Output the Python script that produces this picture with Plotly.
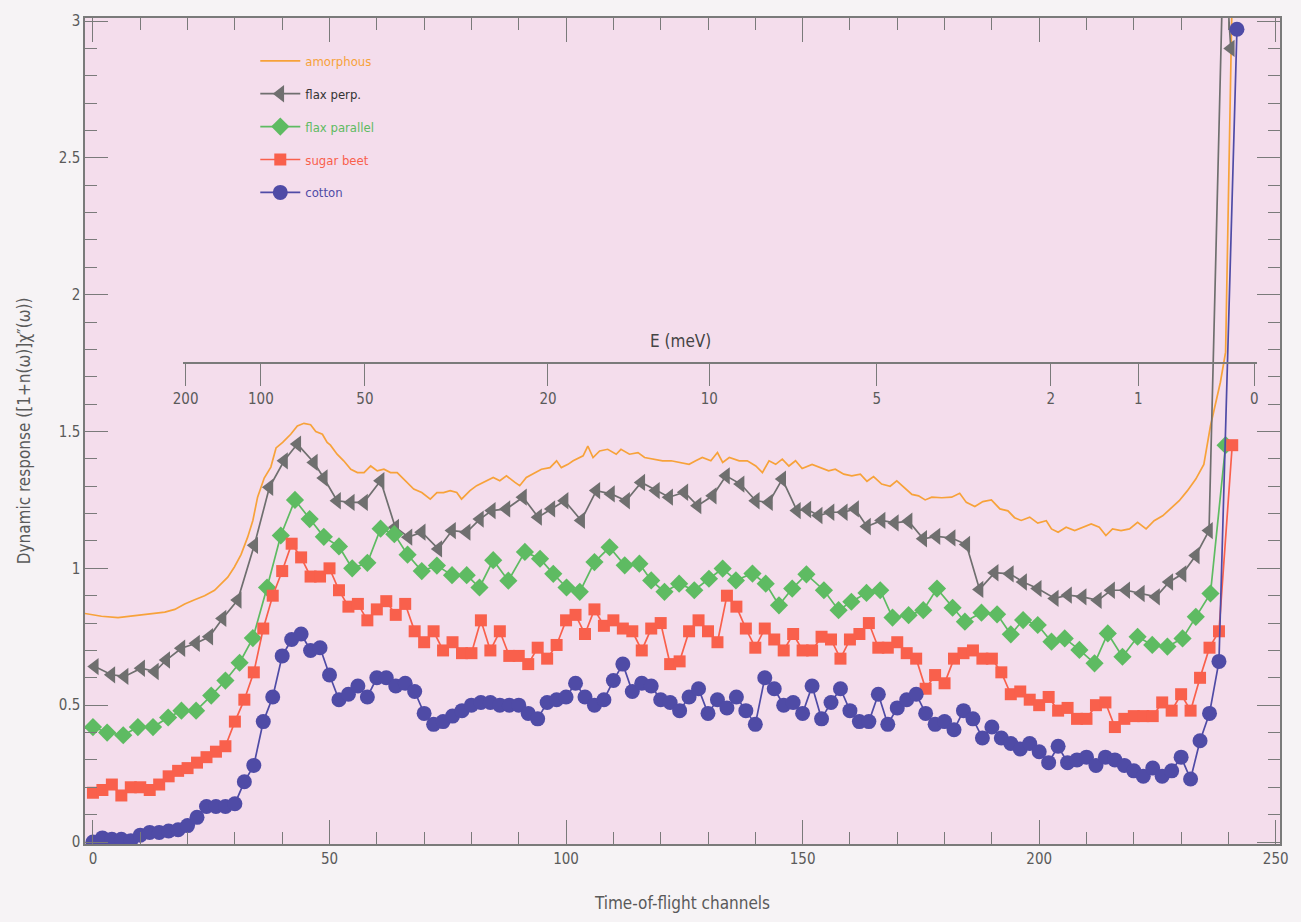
import plotly.graph_objects as go

# ---------------- data ----------------
amorphous_ch = [-1.7, 1.8, 5.3, 8.8, 12.4, 15.2, 17.3, 19.4, 21.5, 23.6, 25.7, 27.1, 28.5, 29.9, 31.3,
                32.7, 33.8, 34.8, 36.2, 37.6, 38.7, 40.1, 41.8, 43.2, 44.6, 46.0, 47.1, 48.5, 49.5, 50.2,
                51.6, 53.0, 54.5, 55.9, 57.3, 58.7, 60.1, 61.5, 62.9, 64.3, 66.0, 67.8, 69.5, 71.3, 72.7,
                74.1, 75.5, 76.9, 77.9, 79.7, 81.1, 83.2, 84.6, 86.0, 87.4, 89.2, 90.2, 91.6, 93.0, 94.8,
                96.6, 98.0, 99.0, 100.4, 101.5, 103.6, 104.6, 105.7, 107.1, 108.8, 110.6, 111.6, 113.4,
                115.2, 116.6, 118.3, 120.4, 122.2, 124.0, 126.0, 127.4, 128.8, 130.6, 132.0, 133.1, 134.5,
                136.6, 138.3, 140.1, 141.5, 142.9, 144.3, 145.7, 147.1, 148.5, 149.9, 152.0, 153.8, 155.5,
                156.9, 158.7, 160.4, 162.2, 163.6, 165.0, 166.7, 168.5, 169.9, 171.7, 173.1, 174.5, 175.9,
                177.3, 179.4, 181.5, 183.2, 184.6, 186.4, 188.1, 189.9, 191.7, 193.4, 194.8, 196.2, 198.0,
                199.7, 201.5, 202.6, 204.0, 205.7, 207.5, 209.2, 211.0, 212.7, 214.1, 215.5, 217.3, 219.1,
                220.8, 222.6, 224.3, 226.1, 227.8, 229.6, 231.3, 233.1, 234.8, 236.2, 238.3, 239.4, 241.0]
amorphous = [0.835, 0.825, 0.82, 0.827, 0.833, 0.84, 0.85, 0.87, 0.885, 0.90, 0.92, 0.944, 0.968, 1.005, 1.05,
             1.114, 1.175, 1.26, 1.33, 1.37, 1.44, 1.46, 1.49, 1.52, 1.53, 1.525, 1.50, 1.49, 1.46, 1.45,
             1.417, 1.393, 1.362, 1.35, 1.35, 1.374, 1.356, 1.362, 1.35, 1.35, 1.32, 1.29, 1.277, 1.253, 1.277,
             1.277, 1.284, 1.277, 1.253, 1.284, 1.302, 1.32, 1.332, 1.32, 1.338, 1.314, 1.302, 1.332, 1.344, 1.362,
             1.368, 1.393, 1.368, 1.38, 1.393, 1.411, 1.447, 1.405, 1.429, 1.435, 1.417, 1.435, 1.417,
             1.423, 1.405, 1.399, 1.393, 1.393, 1.387, 1.38, 1.393, 1.405, 1.393, 1.423, 1.387, 1.405,
             1.393, 1.393, 1.374, 1.35, 1.393, 1.38, 1.399, 1.374, 1.393, 1.365, 1.38, 1.368, 1.356,
             1.362, 1.344, 1.338, 1.344, 1.318, 1.335, 1.308, 1.30, 1.32, 1.293, 1.27, 1.265, 1.25,
             1.26, 1.258, 1.26, 1.274, 1.241, 1.226, 1.244, 1.25, 1.217, 1.21, 1.185, 1.175, 1.187,
             1.165, 1.174, 1.144, 1.132, 1.15, 1.138, 1.15, 1.162, 1.15, 1.12, 1.144, 1.138, 1.144,
             1.168, 1.144, 1.174, 1.192, 1.217, 1.247, 1.283, 1.326, 1.38, 1.52, 1.68, 1.79, 3.3]

flax_perp_ch = [0.4, 3.9, 6.7, 10.2, 13.1, 15.5, 18.7, 21.8, 24.6, 27.4, 30.6, 34.1, 37.3, 40.4, 43.2, 46.7, 48.8,
                51.6, 54.5, 57.3, 60.8, 63.9, 66.7, 69.5, 73.0, 75.9, 79.0, 81.8, 84.3, 87.4, 90.9, 94.1, 96.9, 99.7,
                103.2, 106.4, 109.5, 112.7, 115.9, 119.0, 121.8, 125.0, 127.8, 131.0, 133.8, 136.9, 140.1, 142.9, 145.7, 148.8, 151.0,
                153.4, 155.9, 158.7, 161.1, 163.6, 166.7, 169.5, 172.4, 175.5, 178.3, 181.5, 184.6, 187.4, 190.6, 193.8, 196.6, 199.7,
                203.3, 206.1, 209.2, 212.4, 215.2, 218.4, 221.5, 224.7, 227.5, 230.3, 233.1, 235.9, 239.0, 240.5]
flax_perp = [0.641, 0.611, 0.605, 0.635, 0.623, 0.665, 0.708, 0.726, 0.75, 0.817, 0.884, 1.084, 1.296, 1.393, 1.454, 1.387, 1.33,
             1.247, 1.241, 1.241, 1.32, 1.15, 1.114, 1.132, 1.071, 1.138, 1.132, 1.18, 1.211, 1.217, 1.26, 1.187, 1.217, 1.247,
             1.175, 1.284, 1.272, 1.247, 1.314, 1.284, 1.26, 1.278, 1.229, 1.265, 1.338, 1.308, 1.247, 1.241, 1.326, 1.211, 1.215,
             1.193, 1.205, 1.205, 1.217, 1.153, 1.175, 1.166, 1.172, 1.108, 1.117, 1.111, 1.087, 0.923, 0.984, 0.98, 0.95, 0.926,
             0.89, 0.902, 0.896, 0.883, 0.92, 0.92, 0.908, 0.896, 0.95, 0.98, 1.047, 1.138, 3.3, 2.90]

flax_par_ch = [0.0, 3.0, 6.4, 9.5, 12.7, 15.9, 18.7, 21.8, 25.0, 28.0, 31.0, 33.8, 36.8, 39.7, 42.7, 45.8, 48.8, 52.0,
               54.8, 58.0, 60.8, 63.7, 66.5, 69.5, 72.7, 75.9, 79.0, 81.7, 84.6, 87.8, 91.3, 94.5, 97.3, 100.1, 102.9,
               106.0, 109.2, 112.4, 115.5, 118.0, 120.8, 123.9, 127.1, 130.2, 133.1, 135.9, 139.4, 142.2, 145.0, 147.8,
               150.8, 154.5, 157.6, 160.3, 163.5, 166.4, 169.0, 172.4, 175.5, 178.4, 181.7, 184.3, 187.8, 191.1, 194.0,
               196.6, 199.7, 202.6, 205.4, 208.5, 211.7, 214.5, 217.6, 220.8, 223.9, 227.1, 230.3, 233.1, 236.2, 239.4]
flax_par = [0.42, 0.40, 0.39, 0.42, 0.42, 0.455, 0.48, 0.48, 0.535, 0.59, 0.655, 0.745, 0.93, 1.12, 1.25, 1.18, 1.115, 1.08,
            1.00, 1.02, 1.145, 1.125, 1.05, 0.99, 1.01, 0.975, 0.975, 0.93, 1.03, 0.955, 1.06, 1.035, 0.98, 0.93, 0.914,
            1.023, 1.077, 1.011, 1.017, 0.956, 0.914, 0.944, 0.92, 0.962, 0.999, 0.956, 0.981, 0.944, 0.865, 0.926,
            0.978, 0.92, 0.847, 0.878, 0.91, 0.92, 0.82, 0.829, 0.847, 0.926, 0.856, 0.805, 0.838, 0.832, 0.759,
            0.811, 0.793, 0.732, 0.744, 0.702, 0.653, 0.762, 0.677, 0.75, 0.72, 0.714, 0.744, 0.823, 0.908, 1.45]

sugar_beet_ch = list(range(0, 240, 2)) + [240.8]
sugar_beet = [0.18, 0.19, 0.21, 0.17, 0.20, 0.20, 0.19, 0.21, 0.24, 0.26, 0.27, 0.29, 0.31, 0.33, 0.35, 0.44,
              0.52, 0.62, 0.78, 0.90, 0.99, 1.09, 1.04, 0.97, 0.97, 1.00, 0.92, 0.86, 0.87, 0.81, 0.85, 0.88,
              0.83, 0.87, 0.77, 0.73, 0.77, 0.70, 0.73, 0.69, 0.69, 0.81, 0.70, 0.77, 0.68, 0.68, 0.65, 0.71,
              0.67, 0.72, 0.81, 0.83, 0.76, 0.85, 0.79, 0.81, 0.78, 0.77, 0.70, 0.78, 0.80, 0.65, 0.66, 0.77,
              0.81, 0.77, 0.73, 0.90, 0.86, 0.78, 0.71, 0.78, 0.74, 0.70, 0.76, 0.70, 0.70, 0.75, 0.74, 0.67,
              0.74, 0.76, 0.80, 0.71, 0.71, 0.73, 0.69, 0.67, 0.56, 0.61, 0.58, 0.67, 0.69, 0.70, 0.67, 0.67,
              0.62, 0.54, 0.55, 0.52, 0.50, 0.53, 0.48, 0.49, 0.45, 0.45, 0.50, 0.51, 0.42, 0.45, 0.46, 0.46,
              0.46, 0.51, 0.48, 0.54, 0.48, 0.60, 0.71, 0.77, 1.45]

cotton_ch = list(range(0, 240, 2)) + [241.8]
cotton = [0.00, 0.015, 0.01, 0.01, 0.005, 0.025, 0.035, 0.035, 0.04, 0.045, 0.06, 0.09, 0.13, 0.13, 0.13, 0.14,
          0.22, 0.28, 0.44, 0.53, 0.68, 0.74, 0.76, 0.70, 0.71, 0.61, 0.52, 0.54, 0.57, 0.53, 0.60, 0.60,
          0.57, 0.58, 0.55, 0.47, 0.43, 0.44, 0.46, 0.48, 0.50, 0.51, 0.51, 0.50, 0.50, 0.50, 0.47, 0.45,
          0.51, 0.52, 0.53, 0.58, 0.53, 0.50, 0.52, 0.59, 0.65, 0.55, 0.58, 0.57, 0.52, 0.51, 0.48, 0.53,
          0.56, 0.47, 0.52, 0.49, 0.53, 0.48, 0.43, 0.60, 0.56, 0.50, 0.51, 0.47, 0.57, 0.45, 0.51, 0.56,
          0.48, 0.44, 0.44, 0.54, 0.43, 0.49, 0.52, 0.54, 0.47, 0.43, 0.44, 0.41, 0.48, 0.45, 0.38, 0.42,
          0.38, 0.36, 0.34, 0.36, 0.33, 0.29, 0.35, 0.29, 0.30, 0.31, 0.28, 0.31, 0.30, 0.28, 0.26, 0.24,
          0.27, 0.24, 0.26, 0.31, 0.23, 0.37, 0.47, 0.66, 2.97]

# secondary energy axis (E in meV) and its channel positions
e_labels = ["200", "100", "50", "20", "10", "5", "2", "1", "0"]
e_channels = [19.6, 35.5, 57.5, 96.2, 130.3, 165.7, 202.5, 221.0, 245.5]

# ---------------- styling ----------------
FONT = "Liberation Sans Narrow, DejaVu Sans Condensed, Roboto Condensed, Arial Narrow, sans-serif"
TXT = "#5a5a5a"
AX = "#7a7a7a"
PLOT_BG = "#F4DDEC"
C_AM, C_PERP, C_PAR, C_SB, C_CO = "#F7A23A", "#6F6F6F", "#5EBB62", "#F9604C", "#4F4BA6"

fig = go.Figure()

def lab(txt, col):
    return f"<span style='color:{col}'>{txt}</span>"

fig.add_trace(go.Scatter(x=amorphous_ch, y=amorphous, mode="lines", name=lab("amorphous", C_AM),
                         line=dict(color=C_AM, width=1.7), legendgroup="a"))
fig.add_trace(go.Scatter(x=flax_perp_ch, y=flax_perp, mode="lines+markers", name=lab("flax perp.", "#333333"),
                         line=dict(color=C_PERP, width=1.7),
                         marker=dict(symbol="triangle-left", size=15, color=C_PERP), legendgroup="b"))
fig.add_trace(go.Scatter(x=flax_par_ch, y=flax_par, mode="lines+markers", name=lab("flax parallel", C_PAR),
                         line=dict(color=C_PAR, width=1.7),
                         marker=dict(symbol="diamond", size=14, color=C_PAR), legendgroup="c"))
fig.add_trace(go.Scatter(x=sugar_beet_ch, y=sugar_beet, mode="lines+markers", name=lab("sugar beet", C_SB),
                         line=dict(color=C_SB, width=1.7),
                         marker=dict(symbol="square", size=12, color=C_SB), legendgroup="d"))
fig.add_trace(go.Scatter(x=cotton_ch, y=cotton, mode="lines+markers", name=lab("cotton", C_CO),
                         line=dict(color=C_CO, width=1.7),
                         marker=dict(symbol="circle", size=15, color=C_CO), legendgroup="e"))
# empty trace that activates the energy axis
fig.add_trace(go.Scatter(x=[e_channels[0]], y=[None], xaxis="x2", yaxis="y", showlegend=False,
                         hoverinfo="skip", mode="markers"))

L, R, T, B = 85, 16, 15, 77
W, H = 1301, 922
pw = W - L - R
ph = H - T - B
x0_ch, x1_ch = -1.68, 250.9

def paper_x(px):
    return (px - L) / pw

def paper_y(py):
    return (H - B - py) / ph

e_left_px, e_right_px, e_line_py = 183, 1262, 362
fig.update_layout(
    width=W, height=H,
    margin=dict(l=L, r=R, t=T, b=B),
    paper_bgcolor="#F6F3F5",
    plot_bgcolor="rgba(0,0,0,0)",
    font=dict(family=FONT, size=14, color=TXT),
    showlegend=True,
    legend=dict(x=paper_x(256), y=paper_y(43), xanchor="left", yanchor="top",
                bgcolor="rgba(0,0,0,0)", font=dict(size=13, family=FONT),
                tracegroupgap=13, itemwidth=40),
    shapes=[dict(type="rect", xref="x domain", yref="y domain", x0=0, x1=1, y0=0, y1=1,
                 fillcolor=PLOT_BG, line=dict(width=0), layer="below")],
    xaxis=dict(range=[x0_ch, x1_ch], showgrid=False, zeroline=False,
               showline=True, linecolor=AX, linewidth=1.5, mirror="ticks",
               ticks="inside", ticklen=24, tickcolor=AX, tickwidth=1.3,
               tickvals=[0, 50, 100, 150, 200, 250],
               minor=dict(ticks="inside", ticklen=12, dtick=10, tick0=0, tickcolor=AX, tickwidth=1.2),
               tickfont=dict(size=15, color=TXT),
               title=dict(text="Time-of-flight channels", font=dict(size=17, color=TXT), standoff=30)),
    yaxis=dict(range=[-0.0073, 3.011], showgrid=False, zeroline=False,
               showline=True, linecolor=AX, linewidth=1.5, mirror="ticks",
               ticks="inside", ticklen=23, tickcolor=AX, tickwidth=1.3,
               tickvals=[0, 0.5, 1, 1.5, 2, 2.5, 3], ticktext=["0", "0.5", "1", "1.5", "2", "2.5", "3"],
               minor=dict(ticks="inside", ticklen=12, dtick=0.1, tick0=0, tickcolor=AX, tickwidth=1.2),
               tickfont=dict(size=15, color=TXT),
               title=dict(text="Dynamic response ([1+n(ω)]χ\u2033(ω))", font=dict(size=17, color=TXT), standoff=24)),
    xaxis2=dict(domain=[paper_x(e_left_px), paper_x(e_right_px)],
                range=[x0_ch + (e_left_px - L) / 4.75, x0_ch + (e_right_px - L) / 4.75],
                anchor="free", position=paper_y(e_line_py), side="bottom",
                showgrid=False, zeroline=False, showline=True, linecolor=AX, linewidth=1.5,
                ticks="outside", ticklen=22, tickcolor=AX, tickwidth=1.3,
                tickvals=e_channels, ticktext=e_labels,
                tickfont=dict(size=15, color=TXT)),
    annotations=[dict(text="E (meV)", x=paper_x(683), y=paper_y(340), xref="paper", yref="paper",
                      showarrow=False, font=dict(size=17, color="#444444", family=FONT))],
)

fig.write_html("out.html")
